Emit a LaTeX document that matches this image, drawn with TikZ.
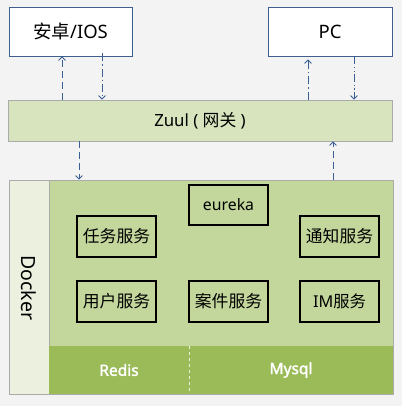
\documentclass[tikz,border=0pt]{standalone}
\usepackage{fontspec}
\setmainfont{Noto Sans}[AutoFakeBold=2]
\newfontfamily\cjk{Noto Sans CJK SC}
\usetikzlibrary{arrows.meta,positioning}
\definecolor{bgc}{HTML}{F3F3F3}
\definecolor{zuulc}{HTML}{D7E4BD}
\definecolor{mainc}{HTML}{C3D69B}
\definecolor{dockc}{HTML}{EBF1DE}
\definecolor{dbc}{HTML}{9BBB59}
\definecolor{edgec}{HTML}{ABABAB}
\definecolor{topc}{HTML}{3F5F8F}
\definecolor{arrc}{HTML}{3A5F95}
\tikzset{
  topbox/.style={draw=topc, fill=white, line width=0.8pt, font=\fontsize{18.5}{20}\selectfont},
  svc/.style={draw=black, line width=1.6pt, font=\fontsize{16.8}{18}\selectfont, inner sep=0pt},
  flow/.style={draw=arrc, line width=0.8pt, -{Straight Barb[length=3.5pt,width=7pt]}},
  fdash/.style={flow, dash pattern=on 7pt off 4pt},
  fdd/.style={flow, dash pattern=on 8pt off 3pt on 1.2pt off 3pt},
  fddd/.style={flow, dash pattern=on 8pt off 2.5pt on 1.2pt off 2.5pt on 1.2pt off 2.5pt},
  dbbox/.style={fill=dbc, minimum height=48pt, text=white, font=\bfseries\fontsize{15.5}{18}\selectfont},
}
\begin{document}
\begin{tikzpicture}[x=1pt,y=1pt]
\path[fill=bgc] (0,0) rectangle (402,-406);
% top boxes
\node[topbox, minimum width=123pt, minimum height=49pt] (andr) at (70.5,-31.5) {{\cjk 安卓}/IOS};
\node[topbox, minimum width=124pt, minimum height=49pt] (pc) at (330,-31.5) {PC};
% zuul
\node[draw=edgec, fill=zuulc, line width=0.8pt, minimum width=384pt, minimum height=41pt, font=\fontsize{16.8}{18}\selectfont] (zuul) at (200,-120.5) {Zuul ( {\cjk 网关} )};
% docker
\node[draw=edgec, fill=dockc, line width=0.8pt, minimum width=40pt, minimum height=214pt] (dock) at (29,-287) {};
\node[rotate=-90, font=\fontsize{19.5}{21}\selectfont] (docktxt) at (29,-288) {Docker};
\node[draw=edgec, fill=mainc, line width=0.8pt, minimum width=344pt, minimum height=166pt] (main) at (221,-263) {};
\node[dbbox, minimum width=140pt] (redis) at (119,-370) {Redis};
\node[dbbox, minimum width=204pt] (mysql) at (291,-370) {Mysql};
\draw[white!80!dbc, dashed, line width=0.5pt] (redis.north east) -- (redis.south east);
\draw[edgec, line width=0.8pt] (redis.south west) -- (mysql.south east) -- (mysql.north east);
% services
\node[svc, minimum width=79pt, minimum height=40pt, font=\fontsize{15.8}{18}\selectfont] (eur) at (228.5,-205) {eureka};
\node[svc, minimum width=79pt, minimum height=41pt] (task) at (116.5,-236.5) {\cjk 任务服务};
\node[svc, minimum width=79pt, minimum height=41pt] (notif) at (339.5,-236.5) {\cjk 通知服务};
\node[svc, minimum width=79pt, minimum height=41pt] (user) at (116.5,-301.5) {\cjk 用户服务};
\node[svc, minimum width=79pt, minimum height=41pt] (case) at (228.5,-301.5) {\cjk 案件服务};
\node[svc, minimum width=79pt, minimum height=41pt, font=\fontsize{16.3}{18}\selectfont] (im) at (339.5,-301.5) {IM{\cjk 服务}};
% arrows
\coordinate (c1) at (62,0);
\coordinate (c2) at (102,0);
\coordinate (c3) at (308,0);
\coordinate (c4) at (354,0);
\coordinate (c5) at (79,0);
\coordinate (c6) at (333,0);
\draw[fdash] (zuul.north -| c1) -- (andr.south -| c1);
\draw[fdd] ([yshift=3pt]andr.south -| c2) -- (zuul.north -| c2);
\draw[fdd] (zuul.north -| c3) -- ([yshift=-3pt]pc.south -| c3);
\draw[fddd] (pc.south -| c4) -- (zuul.north -| c4);
\draw[fdash] (zuul.south -| c5) -- (main.north -| c5);
\draw[fdash] (main.north -| c6) -- (zuul.south -| c6);
\end{tikzpicture}
\end{document}
